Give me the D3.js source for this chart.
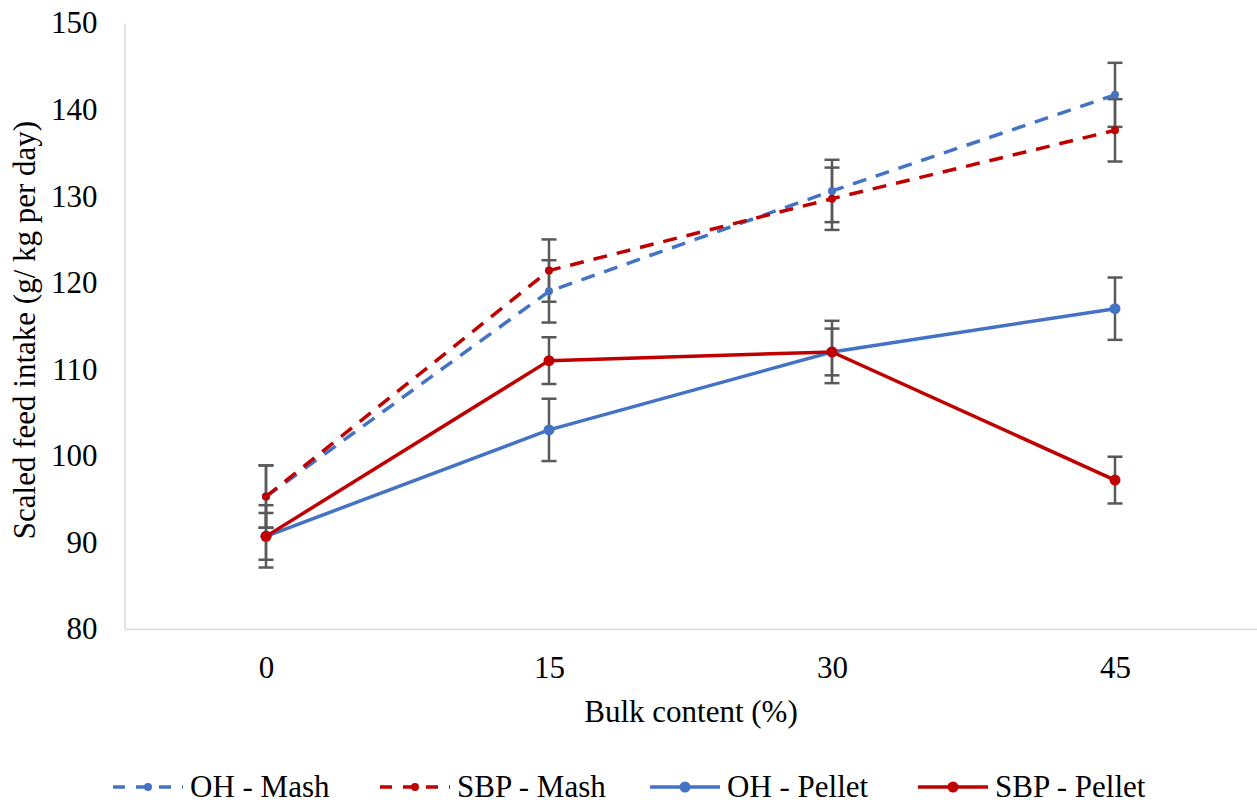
<!DOCTYPE html>
<html>
<head>
<meta charset="utf-8">
<script src="https://cdn.jsdelivr.net/npm/d3@7/dist/d3.min.js"></script>
<style>
  html, body { margin: 0; padding: 0; background: #fff; font-family: "Liberation Serif"; }
  svg { display: block; font-family: "Liberation Serif"; }
  text { font-family: "Liberation Serif"; }
</style>
</head>
<body>
<svg id="chart" width="1257" height="805" font-family="Liberation Serif"></svg>
<script>
// Bulk content levels (x categories)
const categories = ["0", "15", "30", "45"];

// Scaled feed intake (g/kg per day) per series
const ohMash      = [95.3, 119.0, 130.6, 141.7];
const sbpMash     = [95.3, 121.4, 129.7, 137.6];
const ohPellet    = [90.7, 103.0, 112.0, 117.0];
const sbpPellet   = [90.7, 111.0, 112.0, 97.2];

// Error bar half-widths
const ohMashErr    = [3.6, 3.6, 3.6, 3.7];
const sbpMashErr   = [3.6, 3.6, 3.6, 3.6];
const ohPelletErr  = [3.6, 3.6, 3.6, 3.6];
const sbpPelletErr = [2.7, 2.7, 2.7, 2.7];

const yTicks = [80, 90, 100, 110, 120, 130, 140, 150];

const FONT = "Liberation Serif";
const FS = 31;

const series = [
  { name: "OH - Mash",    values: ohMash,    err: ohMashErr,    color: "#4472C4", dashed: true,  r: 4 },
  { name: "SBP - Mash",   values: sbpMash,   err: sbpMashErr,   color: "#C00000", dashed: true,  r: 4 },
  { name: "OH - Pellet",  values: ohPellet,  err: ohPelletErr,  color: "#4472C4", dashed: false, r: 5.5 },
  { name: "SBP - Pellet", values: sbpPellet, err: sbpPelletErr, color: "#C00000", dashed: false, r: 5.5 }
];

const svg = d3.select("#chart");
const margin = { left: 124.5, right: 0.5, top: 23, bottom: 176 };
const W = 1257, H = 805;

const x = d3.scalePoint()
  .domain(categories)
  .range([margin.left, W - margin.right])
  .padding(0.5);

const y = d3.scaleLinear()
  .domain([80, 150])
  .range([H - margin.bottom, margin.top]);

// Axes
const yAxis = svg.append("g")
  .attr("transform", `translate(${margin.left},0)`)
  .call(d3.axisLeft(y).tickValues(yTicks).tickSize(0).tickPadding(27));
const xAxis = svg.append("g")
  .attr("transform", `translate(0,${H - margin.bottom})`)
  .call(d3.axisBottom(x).tickSize(0).tickPadding(27));

[yAxis, xAxis].forEach(g => {
  g.attr("font-family", FONT).attr("font-size", FS);
  g.select(".domain").attr("stroke", "#d9d9d9").attr("stroke-width", 1.5);
  g.selectAll("text").attr("fill", "#000")
    .attr("font-family", FONT).style("font-family", FONT);
});

// Axis titles
svg.append("text")
  .attr("x", 691).attr("y", 722)
  .attr("text-anchor", "middle")
  .attr("font-family", FONT).style("font-family", FONT)
  .attr("font-size", FS)
  .text("Bulk content (%)");

svg.append("text")
  .attr("transform", `translate(35,330) rotate(-90)`)
  .attr("text-anchor", "middle")
  .attr("font-family", FONT).style("font-family", FONT)
  .attr("font-size", FS)
  .text("Scaled feed intake (g/ kg per day)");

// Error bars (drawn beneath the lines)
const capHalf = 7.5;
const errG = svg.append("g");
series.forEach(s => {
  s.values.forEach((v, i) => {
    const cx = x(categories[i]);
    const top = y(v + s.err[i]), bot = y(v - s.err[i]);
    errG.append("line").attr("x1", cx).attr("x2", cx).attr("y1", top).attr("y2", bot)
      .attr("stroke", "#595959").attr("stroke-width", 2.5);
    [top, bot].forEach(yy => errG.append("line")
      .attr("x1", cx - capHalf).attr("x2", cx + capHalf).attr("y1", yy).attr("y2", yy)
      .attr("stroke", "#595959").attr("stroke-width", 2.5));
  });
});

// Series lines and markers
const line = d3.line()
  .x((d, i) => x(categories[i]))
  .y(d => y(d));

series.forEach(s => {
  svg.append("path")
    .datum(s.values)
    .attr("d", line)
    .attr("fill", "none")
    .attr("stroke", s.color)
    .attr("stroke-width", 3.5)
    .attr("stroke-dasharray", s.dashed ? "14,10" : null);
  svg.append("g").selectAll("circle")
    .data(s.values)
    .join("circle")
    .attr("cx", (d, i) => x(categories[i]))
    .attr("cy", d => y(d))
    .attr("r", s.r)
    .attr("fill", s.color);
});

// Legend
const legendX = [113, 380, 650, 918];
const legendY = 787;
series.forEach((s, i) => {
  const g = svg.append("g").attr("transform", `translate(${legendX[i]},${legendY})`);
  g.append("line").attr("x1", 0).attr("x2", 70).attr("y1", 0).attr("y2", 0)
    .attr("stroke", s.color).attr("stroke-width", 3.5)
    .attr("stroke-dasharray", s.dashed ? "12,11" : null);
  g.append("circle").attr("cx", 35).attr("cy", 0).attr("r", s.r).attr("fill", s.color);
  g.append("text").attr("x", 77).attr("y", 10)
    .attr("font-family", FONT).style("font-family", FONT)
    .attr("font-size", FS).text(s.name);
});
</script>
</body>
</html>
